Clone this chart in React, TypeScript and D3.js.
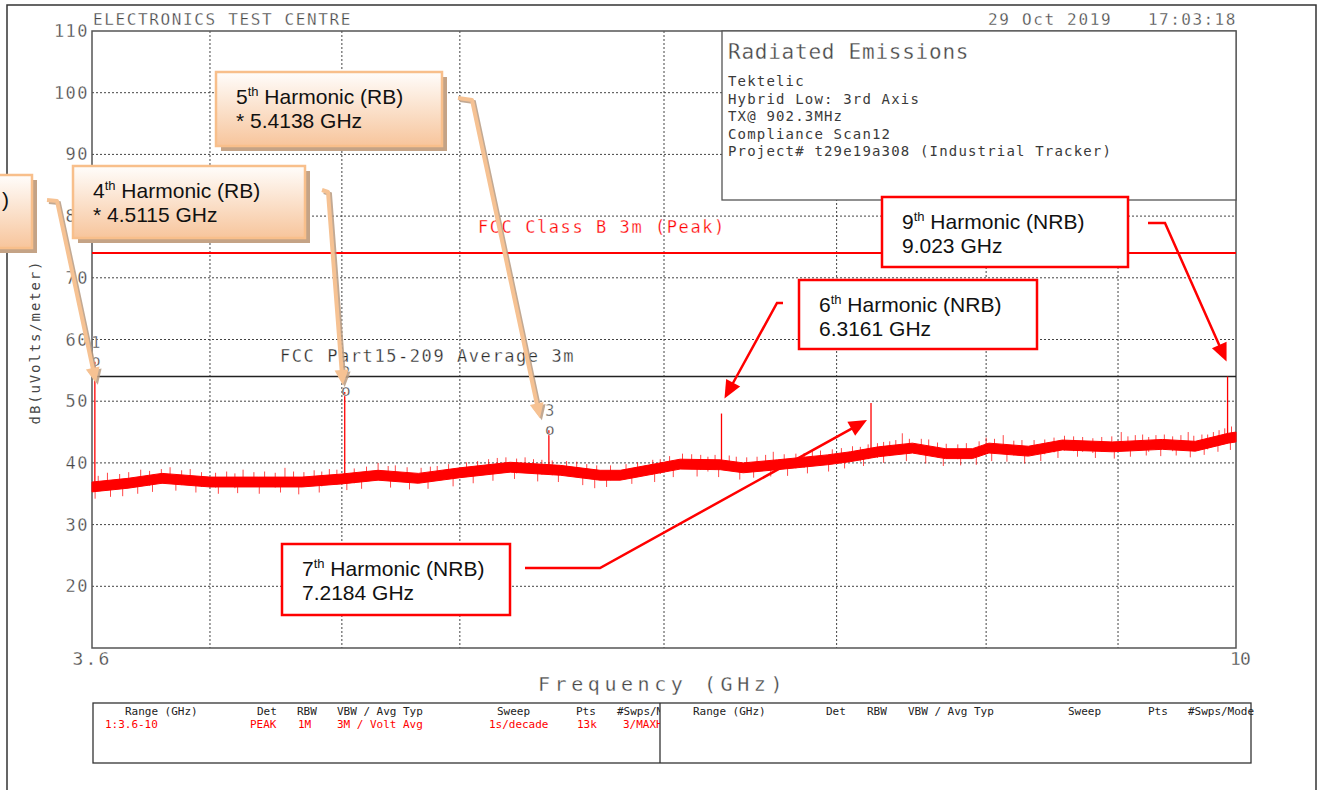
import React from "react";
import * as d3 from "d3";

const W = 1325;
const H = 790;
const plot = { left: 92, right: 1236, top: 31, bottom: 648 };

// axes
const freqDomain = [3.6, 10];
const levelDomain = [10, 110];
const yTicks = [20, 30, 40, 50, 60, 70, 80, 90, 100, 110];
const xGrid = [4, 4.5, 5, 6, 7, 8, 9];
const xTickLabels = ["3.6", "10"];
const xTickValues = [3.6, 10];

// limit lines (dBuV/m)
const limitPeak = 74;
const limitAvg = 54;

// noise floor core
const noiseFreq = [3.6, 3.718, 3.832, 4.0, 4.176, 4.343, 4.5, 4.648, 4.818, 5.0, 5.23, 5.469, 5.667, 5.77, 5.91, 6.087, 6.309, 6.44, 6.639, 6.942, 7.086, 7.265, 7.49, 7.714, 7.902, 8.02, 8.307, 8.563, 8.954, 9.363, 9.643, 9.931, 10];
const noiseHigh = [36.9, 37.5, 38.3, 37.7, 37.7, 37.7, 38.2, 38.8, 38.3, 39.2, 40.1, 39.6, 38.8, 38.8, 39.6, 40.6, 40.5, 40.0, 40.5, 41.3, 41.8, 42.6, 43.2, 42.3, 42.3, 43.2, 42.7, 43.7, 43.4, 43.8, 43.5, 44.8, 45.0];
const noiseLow = [35.3, 35.9, 36.7, 36.1, 36.1, 36.1, 36.6, 37.2, 36.7, 37.6, 38.5, 38.0, 37.2, 37.2, 38.0, 39.0, 38.9, 38.4, 38.9, 39.7, 40.2, 41.0, 41.6, 40.7, 40.7, 41.6, 41.1, 42.1, 41.8, 42.2, 41.9, 43.2, 43.4];

// noise peaks above the floor
const grassFreq = [3.62, 3.65, 3.69, 3.72, 3.76, 3.79, 3.83, 3.86, 3.9, 3.93, 3.97, 4.02, 4.06, 4.09, 4.12, 4.16, 4.2, 4.24, 4.277, 4.31, 4.35, 4.39, 4.42, 4.45, 4.48, 4.55, 4.6, 4.648, 4.69, 4.72, 4.77, 4.83, 4.87, 4.9, 4.95, 5.03, 5.08, 5.13, 5.17, 5.21, 5.26, 5.3, 5.34, 5.38, 5.43, 5.5, 5.55, 5.6, 5.65, 5.72, 5.8, 5.86, 5.94, 5.98, 6.03, 6.1, 6.15, 6.2, 6.24, 6.28, 6.36, 6.4, 6.46, 6.52, 6.57, 6.615, 6.68, 6.75, 6.8, 6.85, 6.9, 6.973, 7.03, 7.1, 7.15, 7.2, 7.26, 7.3, 7.34, 7.38, 7.423, 7.47, 7.55, 7.6, 7.66, 7.72, 7.8, 7.86, 7.95, 8.0, 8.06, 8.123, 8.2, 8.26, 8.35, 8.43, 8.5, 8.58, 8.65, 8.72, 8.8, 8.87, 8.95, 9.026, 9.08, 9.14, 9.2, 9.25, 9.31, 9.38, 9.45, 9.52, 9.582, 9.63, 9.7, 9.75, 9.8, 9.85, 9.9, 9.96];
const grassTop = [37.9, 38.4, 38.2, 38.5, 38.9, 38.7, 39.0, 39.3, 38.8, 39.0, 38.5, 38.4, 38.6, 38.3, 38.9, 38.5, 38.6, 38.4, 39.2, 38.6, 38.5, 38.8, 38.6, 39.0, 38.9, 39.1, 39.4, 40.0, 39.5, 39.6, 39.3, 39.2, 39.4, 39.5, 39.8, 40.1, 40.3, 40.6, 40.8, 40.9, 40.7, 40.9, 40.6, 40.5, 40.4, 40.3, 40.2, 39.8, 39.6, 39.6, 39.8, 40.1, 40.5, 40.6, 41.1, 41.5, 41.4, 41.3, 41.0, 41.3, 41.2, 41.0, 40.9, 41.0, 41.3, 41.8, 41.4, 41.5, 41.6, 41.9, 42.0, 42.2, 42.4, 42.7, 42.6, 43.0, 43.2, 43.4, 43.5, 43.7, 44.8, 43.9, 43.9, 43.8, 43.3, 43.1, 43.0, 43.2, 43.5, 44.1, 43.9, 44.5, 43.6, 43.7, 43.7, 43.8, 44.1, 44.4, 44.3, 44.2, 44.0, 44.2, 44.3, 45.0, 44.3, 44.5, 44.6, 44.2, 44.5, 44.6, 44.3, 44.5, 45.0, 44.4, 44.6, 44.6, 45.0, 45.3, 45.6, 45.9];

// noise dips below the floor
const dipFreq = [3.61, 3.66, 3.7, 3.75, 3.8, 3.88, 3.95, 4.03, 4.1, 4.18, 4.26, 4.33, 4.41, 4.52, 4.58, 4.7, 4.78, 4.86, 4.97, 5.06, 5.15, 5.25, 5.36, 5.46, 5.58, 5.64, 5.7, 5.83, 5.95, 6.05, 6.18, 6.3, 6.42, 6.5, 6.6, 6.7, 6.82, 6.95, 7.05, 7.17, 7.3, 7.45, 7.58, 7.7, 7.82, 7.93, 8.04, 8.15, 8.28, 8.4, 8.53, 8.68, 8.82, 8.97, 9.1, 9.23, 9.35, 9.48, 9.6, 9.72, 9.84, 9.95];
const dipBottom = [34.2, 34.5, 34.6, 35.0, 35.3, 35.5, 35.2, 35.0, 35.1, 35.0, 35.2, 34.9, 35.2, 35.6, 35.8, 36.0, 35.7, 35.8, 36.2, 36.7, 37.1, 37.4, 37.0, 36.9, 36.4, 35.9, 36.1, 36.6, 36.9, 37.7, 37.8, 37.7, 37.3, 37.6, 37.8, 37.9, 38.3, 38.6, 39.1, 39.5, 40.0, 40.3, 39.9, 39.5, 39.6, 39.7, 40.3, 40.2, 39.9, 40.3, 40.8, 41.0, 40.8, 40.7, 41.0, 41.2, 41.1, 41.2, 40.9, 41.3, 41.8, 42.1];

// harmonic spikes
const harmonicFreq = [3.6092, 4.5115, 5.4138, 6.3161, 7.2184, 9.925];
const harmonicPeak = [56.4, 51.5, 45.3, 48.0, 49.7, 54.0];
const harmonicBase = [36.2, 37.4, 38.8, 39.7, 41.3, 44.0];
const markerIds = ["1", "2", "3"];

const infoTitle = "Radiated Emissions";
const infoLines = ["Tektelic", "Hybrid Low: 3rd Axis", "TX@ 902.3MHz", "Compliance Scan12", "Project# t29e19a308 (Industrial Tracker)"];

const tableHeads = ["Range (GHz)", "Det", "RBW", "VBW / Avg Typ", "Sweep", "Pts", "#Swps/Mode"];
const tableValues = ["1:3.6-10", "PEAK", "1M", "3M / Volt Avg", "1s/decade", "13k", "3/MAXH"];
const headX = [125, 257, 297, 337, 497, 576, 617];
const valueX = [105, 250, 298, 337, 489, 577, 623];
const headX2 = [693, 826, 867, 908, 1068, 1148, 1188];

// callout boxes; the first one hangs off the left edge and only its ")" shows
const callouts = [
  { n: "", sup: "", name: ")", freqText: "", kind: "rb", box: [-179, 175, 211, 73], hi: 0, lead: [[47, 200], [57, 201]], tipOff: [1, 21] },
  { n: "4", sup: "th", name: " Harmonic (RB)", freqText: "* 4.5115 GHz", kind: "rb", box: [73, 166, 232, 72], hi: 1, lead: [[322, 190], [328, 192]], tipOff: [-2, -7] },
  { n: "5", sup: "th", name: " Harmonic (RB)", freqText: "* 5.4138 GHz", kind: "rb", box: [216, 72, 226, 74], hi: 2, lead: [[458, 98], [472, 100]], tipOff: [-9, -12] },
  { n: "6", sup: "th", name: " Harmonic (NRB)", freqText: "6.3161 GHz", kind: "nrb", box: [799, 280, 238, 69], hi: 3, lead: [[783, 303], [777, 303]], tipOff: [3, -15] },
  { n: "7", sup: "th", name: " Harmonic (NRB)", freqText: "7.2184 GHz", kind: "nrb", box: [282, 544, 228, 71], hi: 4, lead: [[525, 568], [600, 568]], tipOff: [-4, 17] },
  { n: "9", sup: "th", name: " Harmonic (NRB)", freqText: "9.023 GHz", kind: "nrb", box: [882, 197, 246, 70], hi: 5, lead: [[1148, 223], [1165, 223]], tipOff: [-1, -15] },
];

const MONO = "'DejaVu Sans Mono', monospace";
const SANS = "'Liberation Sans', Arial, sans-serif";
const INK = "#464646";
const RED = "#ff0000";

// monospace text stretched to the plotter's character pitch, slightly thinned
function Mono(props: { x: number; y: number; text: string; size: number; pitch: number; fill?: string; anchor?: string; transform?: string }) {
  const ls = props.pitch - 0.602 * props.size;
  const thin = props.size >= 15;
  return (
    <text
      x={props.x}
      y={props.y}
      fontFamily={MONO}
      fontSize={props.size}
      letterSpacing={ls}
      fill={props.fill || INK}
      stroke={thin ? "#fff" : "none"}
      strokeWidth={thin ? 0.3 : 0}
      textAnchor={props.anchor || "start"}
      dominantBaseline="central"
      transform={props.transform}
    >
      {props.text}
    </text>
  );
}

function arrowParts(pts: number[][], L: number, hw: number) {
  const n = pts.length;
  const tip = pts[n - 1];
  const prev = pts[n - 2];
  const dx = tip[0] - prev[0];
  const dy = tip[1] - prev[1];
  const len = Math.hypot(dx, dy);
  const ux = dx / len;
  const uy = dy / len;
  const bx = tip[0] - ux * L;
  const by = tip[1] - uy * L;
  const head = [tip, [bx - uy * hw, by + ux * hw], [bx + uy * hw, by - ux * hw]];
  const line = [...pts.slice(0, n - 1), [bx + ux * 2, by + uy * 2]];
  return { line, head };
}

export default function App() {
  const x = d3.scaleLog().domain(freqDomain).range([plot.left, plot.right]);
  const y = d3.scaleLinear().domain(levelDomain).range([plot.bottom, plot.top]);

  const band = d3
    .area<number>()
    .x((_, i) => x(noiseFreq[i]))
    .y0((_, i) => y(noiseLow[i]))
    .y1((_, i) => y(noiseHigh[i]));

  const poly = (pts: number[][]) => pts.map((p) => p.join(",")).join(" ");

  return (
    <svg width={W} height={H} style={{ position: "absolute", left: 0, top: 0, background: "#fff" }}>
      <defs>
        <linearGradient id="peach" x1="0" y1="0" x2="0" y2="1">
          <stop offset="0%" stopColor="#fffdfb" />
          <stop offset="100%" stopColor="#f7c59c" />
        </linearGradient>
        <clipPath id="leftCell">
          <rect x={93} y={700} width={567} height={70} />
        </clipPath>
      </defs>

      {/* page frame */}
      <path d="M7,790 V5 H1316 V790" fill="none" stroke="#333" strokeWidth={1.5} />

      {/* header */}
      <Mono x={93} y={19} text="ELECTRONICS TEST CENTRE" size={16} pitch={11.26} />
      <Mono x={988} y={19} text="29 Oct 2019" size={16} pitch={11.3} />
      <Mono x={1148} y={19} text="17:03:18" size={16} pitch={11.1} />

      {/* grid */}
      {yTicks.filter((t) => t < 110).map((t) => (
        <line key={"gy" + t} x1={plot.left} x2={plot.right} y1={y(t)} y2={y(t)} stroke="#444" strokeWidth={1} strokeDasharray="2,2" />
      ))}
      {xGrid.map((f) => (
        <line key={"gx" + f} x1={x(f)} x2={x(f)} y1={plot.top} y2={plot.bottom} stroke="#444" strokeWidth={1} strokeDasharray="2,2" />
      ))}
      <rect x={plot.left} y={plot.top} width={plot.right - plot.left} height={plot.bottom - plot.top} fill="none" stroke="#555" strokeWidth={1.5} />

      {/* tick labels */}
      {yTicks.map((t) => (
        <Mono key={"yt" + t} x={89} y={y(t)} text={String(t)} size={17} pitch={11.7} anchor="end" />
      ))}
      {xTickLabels.map((s, i) => (
        <Mono key={"xt" + s} x={x(xTickValues[i]) + (i === 1 ? 4 : 0)} y={658} text={s} size={18} pitch={i === 1 ? 10 : 13} anchor="middle" />
      ))}

      {/* axis titles */}
      <Mono x={538} y={684} text="Frequency (GHz)" size={20} pitch={16.6} />
      <Mono x={35} y={342} text="dB(uVolts/meter)" size={14} pitch={10.3} anchor="middle" transform="rotate(-90,35,342)" />

      {/* limit lines */}
      <line x1={plot.left} x2={plot.right} y1={y(limitPeak)} y2={y(limitPeak)} stroke={RED} strokeWidth={2} />
      <line x1={plot.left} x2={plot.right} y1={y(limitAvg)} y2={y(limitAvg)} stroke="#222" strokeWidth={1.5} />
      <Mono x={478} y={227} text="FCC Class B 3m (Peak)" size={17} pitch={11.8} fill={RED} />
      <Mono x={280} y={356} text="FCC Part15-209 Average 3m" size={17} pitch={11.8} fill="#2a2a2a" />

      {/* trace */}
      <path d={band(noiseFreq) || ""} fill={RED} stroke={RED} strokeWidth={1} />
      {grassFreq.map((f, i) => (
        <line key={"g" + i} x1={x(f)} x2={x(f)} y1={y(grassTop[i])} y2={y(grassTop[i] - 2.4)} stroke={RED} strokeWidth={0.9} opacity={0.8} />
      ))}
      {dipFreq.map((f, i) => (
        <line key={"d" + i} x1={x(f)} x2={x(f)} y1={y(dipBottom[i])} y2={y(dipBottom[i] + 2.2)} stroke={RED} strokeWidth={0.9} opacity={0.8} />
      ))}
      {harmonicFreq.map((f, i) => (
        <line key={"h" + i} x1={x(f)} x2={x(f)} y1={y(harmonicPeak[i])} y2={y(harmonicBase[i])} stroke={RED} strokeWidth={1.3} />
      ))}
      {markerIds.map((id, i) => (
        <g key={"m" + id}>
          <Mono x={x(harmonicFreq[i]) + 1} y={y(harmonicPeak[i]) - 19} text={id} size={15} pitch={9} anchor="middle" />
          <Mono x={x(harmonicFreq[i]) + 1} y={y(harmonicPeak[i]) - 1} text="o" size={16} pitch={9.6} anchor="middle" />
        </g>
      ))}

      {/* info box */}
      <rect x={722} y={31} width={514} height={169} fill="#fff" stroke="#555" strokeWidth={1.3} />
      <Mono x={728} y={52} text={infoTitle} size={21} pitch={13.4} />
      {infoLines.map((s, i) => (
        <Mono key={"il" + i} x={728} y={81 + i * 17.6} text={s} size={14} pitch={9.6} fill="#3a3a3a" />
      ))}

      {/* settings table */}
      <rect x={93} y={703} width={1158} height={60} fill="none" stroke="#333" strokeWidth={1.3} />
      <line x1={660} x2={660} y1={703} y2={763} stroke="#333" strokeWidth={1.3} />
      <g clipPath="url(#leftCell)">
        {tableHeads.map((s, i) => (
          <Mono key={"th" + i} x={headX[i]} y={711} text={s} size={11} pitch={6.6} fill="#222" />
        ))}
        {tableValues.map((s, i) => (
          <Mono key={"tv" + i} x={valueX[i]} y={724} text={s} size={11} pitch={6.6} fill={RED} />
        ))}
      </g>
      {tableHeads.map((s, i) => (
        <Mono key={"th2" + i} x={headX2[i]} y={711} text={s} size={11} pitch={6.6} fill="#222" />
      ))}

      {/* callouts */}
      {callouts.map((c, i) => {
        const [bx, by, bw, bh] = c.box;
        const tip = [x(harmonicFreq[c.hi]) + c.tipOff[0], y(harmonicPeak[c.hi]) + c.tipOff[1]];
        const pts = [...c.lead, tip];
        const rb = c.kind === "rb";
        const a = arrowParts(pts, rb ? 15 : 18, rb ? 7 : 8);
        const cut = bx < 0;
        return (
          <g key={"c" + i}>
            {rb ? (
              <>
                <polyline points={poly(a.line.map((p) => [p[0] + 2, p[1] + 2]))} fill="none" stroke="#b79a80" strokeWidth={4} opacity={0.85} />
                <polygon points={poly(a.head.map((p) => [p[0] + 2, p[1] + 2]))} fill="#b79a80" opacity={0.85} />
                <polyline points={poly(a.line)} fill="none" stroke="#f6c293" strokeWidth={4} strokeLinejoin="round" />
                <polygon points={poly(a.head)} fill="#f6c293" />
                <rect x={bx + 5} y={by + 5} width={bw} height={bh} fill="#c4a386" />
                <rect x={bx} y={by} width={bw} height={bh} fill="url(#peach)" stroke="#f8bf8b" strokeWidth={2.5} />
              </>
            ) : (
              <>
                <polyline points={poly(a.line)} fill="none" stroke={RED} strokeWidth={2.5} />
                <polygon points={poly(a.head)} fill={RED} />
                <rect x={bx} y={by} width={bw} height={bh} fill="#fff" stroke={RED} strokeWidth={2.5} />
              </>
            )}
            {cut ? (
              <text x={9} y={by + 32} fontFamily={SANS} fontSize={21} fill="#111" textAnchor="end">
                {c.name}
              </text>
            ) : (
              <>
                <text x={bx + 20} y={by + 32} fontFamily={SANS} fontSize={21} fill="#111">
                  {c.n}
                  <tspan fontSize={13} dy={-8}>{c.sup}</tspan>
                  <tspan dy={8}>{c.name}</tspan>
                </text>
                <text x={bx + 20} y={by + 56} fontFamily={SANS} fontSize={21} fill="#111">
                  {c.freqText}
                </text>
              </>
            )}
          </g>
        );
      })}
    </svg>
  );
}
